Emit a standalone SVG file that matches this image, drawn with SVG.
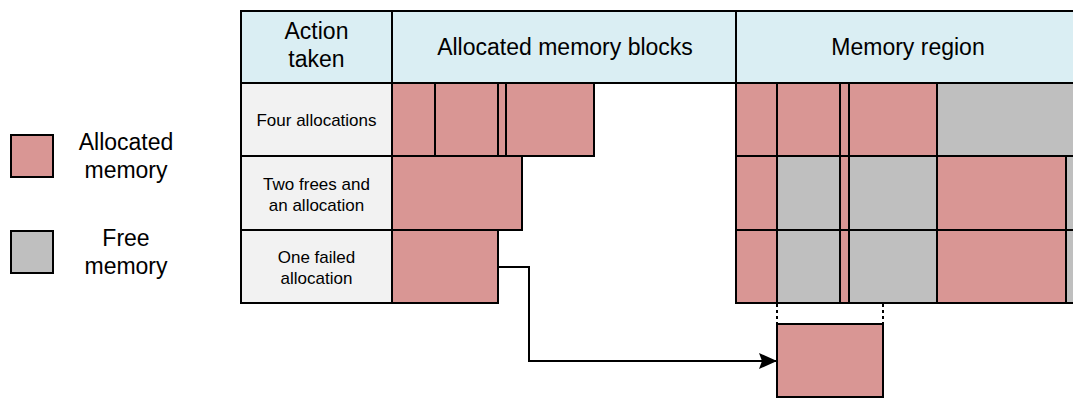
<svg xmlns="http://www.w3.org/2000/svg" width="1073" height="401" viewBox="0 0 1073 401">
  <style>
    .txt { font-family: "Liberation Sans", Arial, sans-serif; fill: #000; text-anchor: middle; }
    .big { font-size: 23px; }
    .small { font-size: 17px; }
    .hdr { fill: #daeef3; stroke: #000; stroke-width: 2; }
    .lbl { fill: #f2f2f2; stroke: #000; stroke-width: 2; }
    .alloc { fill: #d99694; stroke: #000; stroke-width: 2; }
    .free { fill: #bfbfbf; stroke: #000; stroke-width: 2; }
    .wire { fill: none; stroke: #000; stroke-width: 2; }
    .dots { fill: none; stroke: #000; stroke-width: 2; stroke-dasharray: 3 3; }
  </style>
  <defs>
    <marker id="arrowhead" markerUnits="userSpaceOnUse" markerWidth="19" markerHeight="18" refX="18" refY="9" orient="auto">
      <path d="M0,1 L18,9 L0,17 L3,9 Z" fill="#000"/>
    </marker>
  </defs>

  <rect width="1073" height="401" fill="#fff"/>

  <!-- Legend -->
  <g id="legend-allocated">
    <rect class="alloc" x="11" y="135" width="42" height="42"/>
    <text class="txt big" x="126" y="150">Allocated</text>
    <text class="txt big" x="126" y="178">memory</text>
  </g>
  <g id="legend-free">
    <rect class="free" x="11" y="231" width="42" height="42"/>
    <text class="txt big" x="126" y="246">Free</text>
    <text class="txt big" x="126" y="274">memory</text>
  </g>

  <!-- Header row -->
  <g id="header-action">
    <rect class="hdr" x="241" y="11" width="151" height="72"/>
    <text class="txt big" x="316.5" y="39">Action</text>
    <text class="txt big" x="316.5" y="67">taken</text>
  </g>
  <g id="header-blocks">
    <rect class="hdr" x="392" y="11" width="344" height="72"/>
    <text class="txt big" x="565" y="55">Allocated memory blocks</text>
  </g>
  <g id="header-region">
    <rect class="hdr" x="736" y="11" width="350" height="72"/>
    <text class="txt big" x="908" y="55">Memory region</text>
  </g>

  <!-- Action labels -->
  <g id="label-four">
    <rect class="lbl" x="241" y="83" width="151" height="73"/>
    <text class="txt small" x="316.5" y="126">Four allocations</text>
  </g>
  <g id="label-two">
    <rect class="lbl" x="241" y="156" width="151" height="74"/>
    <text class="txt small" x="316.5" y="190">Two frees and</text>
    <text class="txt small" x="316.5" y="211">an allocation</text>
  </g>
  <g id="label-failed">
    <rect class="lbl" x="241" y="230" width="151" height="73"/>
    <text class="txt small" x="316.5" y="263">One failed</text>
    <text class="txt small" x="316.5" y="284">allocation</text>
  </g>

  <!-- Allocated blocks per action -->
  <g id="blocks-four">
    <rect class="alloc" x="392" y="83" width="43" height="73"/>
    <rect class="alloc" x="435" y="83" width="63" height="73"/>
    <rect class="alloc" x="498" y="83" width="8" height="73"/>
    <rect class="alloc" x="506" y="83" width="88" height="73"/>
  </g>
  <g id="blocks-two">
    <rect class="alloc" x="392" y="156" width="130" height="74"/>
  </g>
  <g id="blocks-failed">
    <rect class="alloc" x="392" y="230" width="106" height="73"/>
  </g>

  <!-- Memory region state per action -->
  <g id="region-four">
    <rect class="alloc" x="736" y="83" width="41" height="73"/>
    <rect class="alloc" x="777" y="83" width="63" height="73"/>
    <rect class="alloc" x="840" y="83" width="9" height="73"/>
    <rect class="alloc" x="849" y="83" width="88" height="73"/>
    <rect class="free" x="937" y="83" width="149" height="73"/>
  </g>
  <g id="region-two">
    <rect class="alloc" x="736" y="156" width="41" height="74"/>
    <rect class="free" x="777" y="156" width="63" height="74"/>
    <rect class="alloc" x="840" y="156" width="9" height="74"/>
    <rect class="free" x="849" y="156" width="88" height="74"/>
    <rect class="alloc" x="937" y="156" width="129" height="74"/>
    <rect class="free" x="1066" y="156" width="20" height="74"/>
  </g>
  <g id="region-failed">
    <rect class="alloc" x="736" y="230" width="41" height="73"/>
    <rect class="free" x="777" y="230" width="63" height="73"/>
    <rect class="alloc" x="840" y="230" width="9" height="73"/>
    <rect class="free" x="849" y="230" width="88" height="73"/>
    <rect class="alloc" x="937" y="230" width="129" height="73"/>
    <rect class="free" x="1066" y="230" width="20" height="73"/>
  </g>

  <!-- Request that does not fit -->
  <g id="failed-request">
    <rect class="alloc" x="777" y="324" width="106" height="73"/>
  </g>

  <!-- Connectors -->
  <g id="connectors">
    <path class="wire" d="M498,267 H529 V361 H777" marker-end="url(#arrowhead)"/>
    <line class="dots" x1="777" y1="304" x2="777" y2="324"/>
    <line class="dots" x1="883" y1="304" x2="883" y2="324"/>
  </g>
</svg>
